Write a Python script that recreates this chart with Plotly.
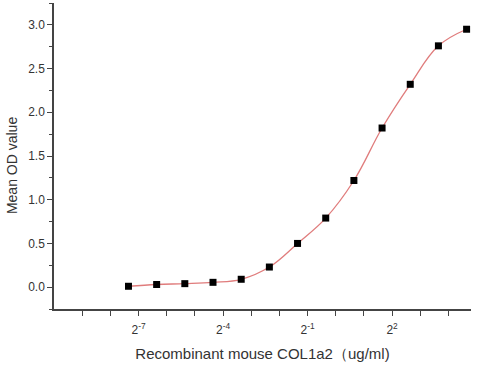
import plotly.graph_objects as go

# Concentration (ug/ml), two-fold dilution series
conc = [0.0061, 0.0122, 0.0244, 0.0488, 0.0977, 0.1953, 0.3906,
        0.78125, 1.5625, 3.125, 6.25, 12.5, 25.0]
od = [0.01, 0.03, 0.04, 0.055, 0.09, 0.23, 0.50,
      0.79, 1.22, 1.82, 2.32, 2.76, 2.95]

x_major_exp = [-7, -4, -1, 2]
x_minor_exp = [-9, -8, -6, -5, -3, -2, 0, 1, 3, 4]
x_tick_vals = [2.0 ** k for k in x_major_exp]
x_tick_text = ["2<sup>%d</sup>" % k for k in x_major_exp]
x_minor_vals = [2.0 ** k for k in x_minor_exp]

fig = go.Figure()
fig.add_trace(go.Scatter(
    x=conc, y=od, mode="lines",
    line=dict(color="#e07c7c", width=1.3, shape="spline", smoothing=1.1),
    hoverinfo="skip", showlegend=False,
))
fig.add_trace(go.Scatter(
    x=conc, y=od, mode="markers",
    marker=dict(symbol="square", size=7, color="black"),
    showlegend=False,
))

axis_col = "#444444"
fig.update_layout(
    width=490, height=365,
    margin=dict(l=54, r=19, t=3, b=56),
    paper_bgcolor="white", plot_bgcolor="white",
    font=dict(family="Liberation Sans, Arial, sans-serif", color="#333333", size=12),
    xaxis=dict(
        type="log", automargin=False,
        range=[-10 * 0.30103, 4.8 * 0.30103],
        tickmode="array", tickvals=x_tick_vals, ticktext=x_tick_text,
        ticks="outside", ticklen=5, tickwidth=1.3, tickcolor=axis_col,
        minor=dict(tickmode="array", tickvals=x_minor_vals, ticks="outside",
                   ticklen=5, tickwidth=1.3, tickcolor=axis_col, showgrid=False),
        ticklabelstandoff=4,
        showline=True, linecolor=axis_col, linewidth=1.5,
        showgrid=False, zeroline=False,
        tickfont=dict(size=12),
        title=dict(text="Recombinant mouse COL1a2（ug/ml)", font=dict(size=15), standoff=12),
    ),
    yaxis=dict(
        range=[-0.25, 3.25], automargin=False,
        tick0=0, dtick=0.5, tickformat=".1f",
        ticks="outside", ticklen=5, tickwidth=1.3, tickcolor=axis_col,
        minor=dict(dtick=0.25, tick0=0, ticks="outside", ticklen=3, tickcolor=axis_col),
        showline=True, linecolor=axis_col, linewidth=1.5,
        showgrid=False, zeroline=False,
        tickfont=dict(size=12),
    ),
    annotations=[dict(
        text="Mean OD value", textangle=-90, showarrow=False,
        xref="paper", yref="paper", x=-0.1007, y=0.467,
        xanchor="center", yanchor="middle",
        font=dict(size=14, color="#333333"),
    )],
)

fig.write_html("out.html", config={"displayModeBar": False},
               post_script="document.body.style.margin='0';")
